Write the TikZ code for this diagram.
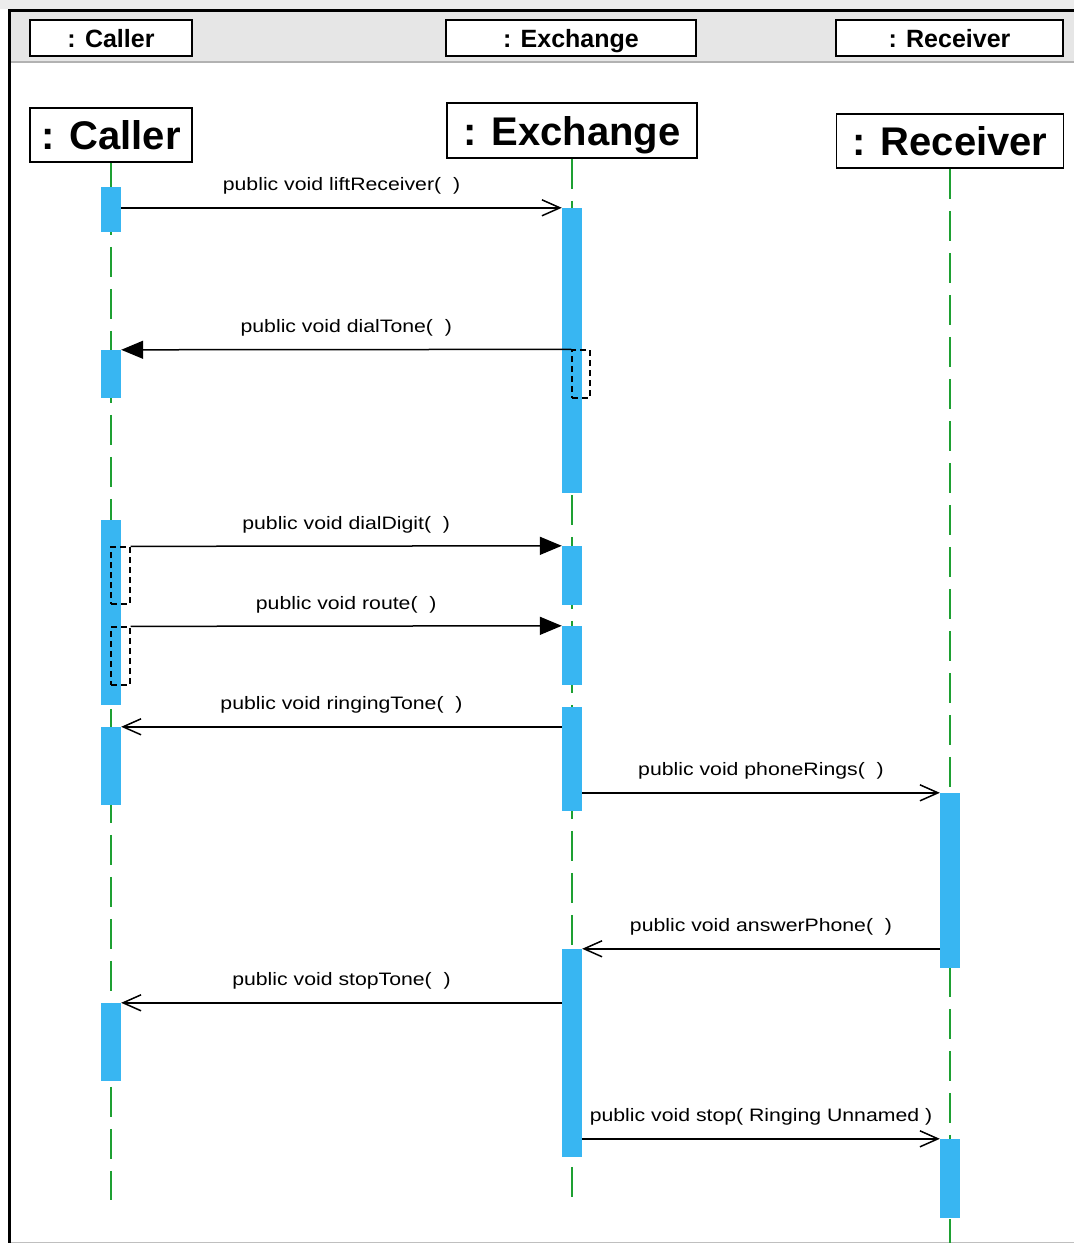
\documentclass[tikz,border=0pt]{standalone}
\usepackage{fontspec}
\setmainfont{Liberation Sans}
\newfontfamily\msgfont[FakeStretch=1.18]{Liberation Sans}
\usetikzlibrary{arrows.meta}
\definecolor{actblue}{RGB}{56,182,242}
\definecolor{lifegreen}{RGB}{30,160,50}
\definecolor{bandgray}{RGB}{230,230,230}

\begin{document}
\begin{tikzpicture}[x=1pt, y=-1pt,
    head/.style={draw, line width=1.6pt, fill=white, inner sep=0pt, minimum height=54pt, text height=29pt, text depth=0pt, font=\fontsize{40}{44}\selectfont\bfseries},
    tophead/.style={draw, line width=1.6pt, fill=white, inner sep=0pt, minimum height=36pt, text height=18pt, text depth=0pt, font=\fontsize{25}{28}\selectfont\bfseries},
    lifeline/.style={lifegreen, line width=2pt, dash pattern=on 30pt off 12pt},
    bar/.style={fill=actblue, draw=none, minimum width=20pt, inner sep=0pt},
    selfbox/.style={draw, dash pattern=on 6pt off 4pt, line width=1.3pt, minimum width=19pt, inner sep=0pt},
    call/.style={-{Straight Barb[length=18pt,width=16pt]}, line width=1.5pt},
    sync/.style={-{Triangle[length=22pt,width=18pt]}, line width=1.5pt},
    lbl/.style={font=\msgfont\fontsize{18}{20}\selectfont, anchor=base, yshift=17pt}
]
    \useasboundingbox (0,0) rectangle (1074,1243);

    % Frame
    \fill[gray!15] (0,0) rectangle (1074,9);
    \fill[bandgray] (10,11) rectangle (1074,61);
    \draw[gray!60, line width=1.5pt] (10,62) -- (1074,62);
    \draw[gray!50, line width=1pt] (10,1242) -- (1074,1242);
    \draw[line width=3pt] (9.5,1243) -- (9.5,10) -- (1074,10);

    % Heads
    \node[tophead, minimum width=162pt] (callerTop) at (111,38) {: Caller};
    \node[tophead, minimum width=250pt] (exchTop) at (571,38) {: Exchange};
    \node[tophead, minimum width=227pt] (recvTop) at (949.5,38) {: Receiver};
    \node[head, minimum width=162pt] (caller) at (111,135) {: Caller};
    \node[head, minimum width=250pt, minimum height=55pt] (exch) at (572,130.5) {: Exchange};
    \node[head, minimum width=227pt] (recv) at (950,141) {: Receiver};

    % Lifelines
    \coordinate (callerEnd) at (111,1200);
    \coordinate (exchEnd) at (572,1197);
    \coordinate (recvEnd) at (950,1243);
    \draw[lifeline] (caller.south) -- (callerEnd);
    \draw[lifeline] (exch.south) -- (exchEnd);
    \draw[lifeline] (recv.south) -- (recvEnd);

    % Activations
    \foreach \n/\x/\a/\b in {c1/111/187/232, c2/111/350/398, c3/111/520/705, c4/111/727/805, c5/111/1003/1081,
        x1/572/208/493, x2/572/546/605, x3/572/626/685, x4/572/707/811, x5/572/949/1157,
        r1/950/793/968, r2/950/1139/1218}
        \node[bar, minimum height={\b-\a}] (\n) at (\x,{(\a+\b)/2}) {};

    \node[selfbox, minimum width=18pt, minimum height=48pt] (d1) at (581,374) {};
    \node[selfbox, minimum height=57pt] (d2) at (120.5,575.5) {};
    \node[selfbox, minimum height=58pt] (d3) at (120.5,656) {};

    % Messages
    \draw[call] (c1.east |- x1.north) -- node[lbl] {public void liftReceiver(\ \ )} (x1.north west);
    \draw[sync] (d1.north west) -- node[lbl] {public void dialTone(\ \ )} (c2.north east);
    \draw[sync] (d2.north east) -- node[lbl] {public void dialDigit(\ \ )} (x2.north west);
    \draw[sync] (d3.north east) -- node[lbl] {public void route(\ \ )} (x3.north west);
    \draw[call] (x4.west |- c4.north) -- node[lbl] {public void ringingTone(\ \ )} (c4.north east);
    \draw[call] (x4.east |- r1.north) -- node[lbl] {public void phoneRings(\ \ )} (r1.north west);
    \draw[call] (r1.west |- x5.north) -- node[lbl] {public void answerPhone(\ \ )} (x5.north east);
    \draw[call] (x5.west |- c5.north) -- node[lbl] {public void stopTone(\ \ )} (c5.north east);
    \draw[call] (x5.east |- r2.north) -- node[lbl] {public void stop( Ringing Unnamed )} (r2.north west);
\end{tikzpicture}
\end{document}
